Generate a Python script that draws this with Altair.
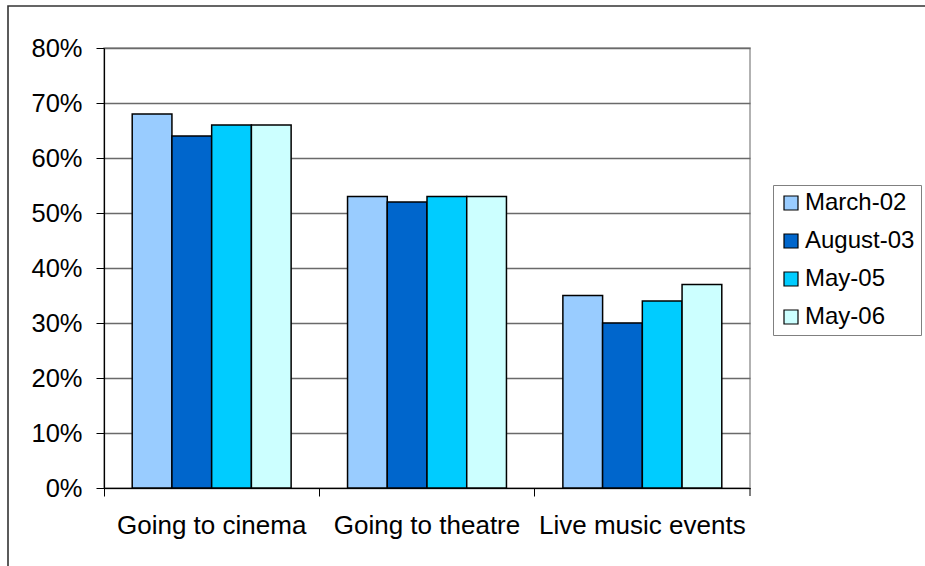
import altair as alt
import pandas as pd

# Share of respondents taking part in each activity, by survey wave (%)
activities = ["Going to cinema", "Going to theatre", "Live music events"]
waves = ["March-02", "August-03", "May-05", "May-06"]
march_02 = [68, 53, 35]
august_03 = [64, 52, 30]
may_05 = [66, 53, 34]
may_06 = [66, 53, 37]
wave_colors = ["#99CCFF", "#0066CC", "#00CCFF", "#CCFFFF"]
y_ticks = [0, 10, 20, 30, 40, 50, 60, 70, 80]

series = [march_02, august_03, may_05, may_06]
rows = []
for wave, values in zip(waves, series):
    for activity, v in zip(activities, values):
        rows.append({"activity": activity, "wave": wave, "share": v})
df = pd.DataFrame(rows)

W, H = 646, 440
FONT = "Liberation Sans"

bars = alt.Chart(df).mark_bar(stroke="black", strokeWidth=1.5).encode(
    x=alt.X(
        "activity:N",
        sort=activities,
        title=None,
        scale=alt.Scale(paddingInner=0, paddingOuter=0),
        axis=alt.Axis(
            labelAngle=0,
            bandPosition=0,
            tickSize=8,
            tickColor="black",
            domainColor="black",
            domainWidth=1.2,
            labelFontSize=26,
            labelPadding=16,
            labelLimit=0,
            labelColor="black",
            labelFont=FONT,
            grid=False,
        ),
    ),
    xOffset=alt.XOffset(
        "wave:N", sort=waves, scale=alt.Scale(paddingInner=0, paddingOuter=0.71)
    ),
    y=alt.Y(
        "share:Q",
        title=None,
        scale=alt.Scale(domain=[0, 80], nice=False),
        axis=alt.Axis(
            values=y_ticks,
            labelExpr="datum.value + '%'",
            tickSize=8,
            tickColor="black",
            domainColor="black",
            domainWidth=1.2,
            labelFontSize=25.5,
            labelPadding=14,
            labelColor="black",
            labelFont=FONT,
            grid=True,
            gridColor="#6a6a6a",
            gridWidth=1.3,
        ),
    ),
    color=alt.Color(
        "wave:N",
        sort=waves,
        scale=alt.Scale(domain=waves, range=wave_colors),
        legend=alt.Legend(
            title=None,
            orient="none",
            legendX=669,
            legendY=137,
            strokeColor="#808080",
            fillColor="white",
            padding=6,
            symbolType="square",
            symbolSize=196,
            symbolStrokeColor="black",
            symbolStrokeWidth=1.2,
            symbolOpacity=1,
            labelFontSize=24,
            labelFont=FONT,
            labelColor="black",
            labelOffset=2,
            rowPadding=14,
            clipHeight=24,
        ),
    ),
)

one = pd.DataFrame({"k": [0]})

# closing tick at the right end of the category axis
end_tick = alt.Chart(one).mark_rule(color="black", strokeWidth=1).encode(
    x=alt.value(W), y=alt.value(H), y2=alt.value(H + 8)
)

# outer chart frame
frame = alt.Chart(one).mark_rect(
    fill=None, stroke="#333333", strokeWidth=1.6
).encode(
    x=alt.value(-96), y=alt.value(-42), x2=alt.value(W + 400), y2=alt.value(H + 300)
)

chart = (
    alt.layer(frame, bars, end_tick)
    .properties(
        width=W,
        height=H,
        autosize=alt.AutoSizeParams(type="none"),
        padding={"left": 104, "top": 48, "right": 175, "bottom": 78},
        background="white",
    )
    .configure_view(stroke="#999999", strokeWidth=1.5)
)

chart.save("out.html", embed_options={"renderer": "svg", "actions": False})
